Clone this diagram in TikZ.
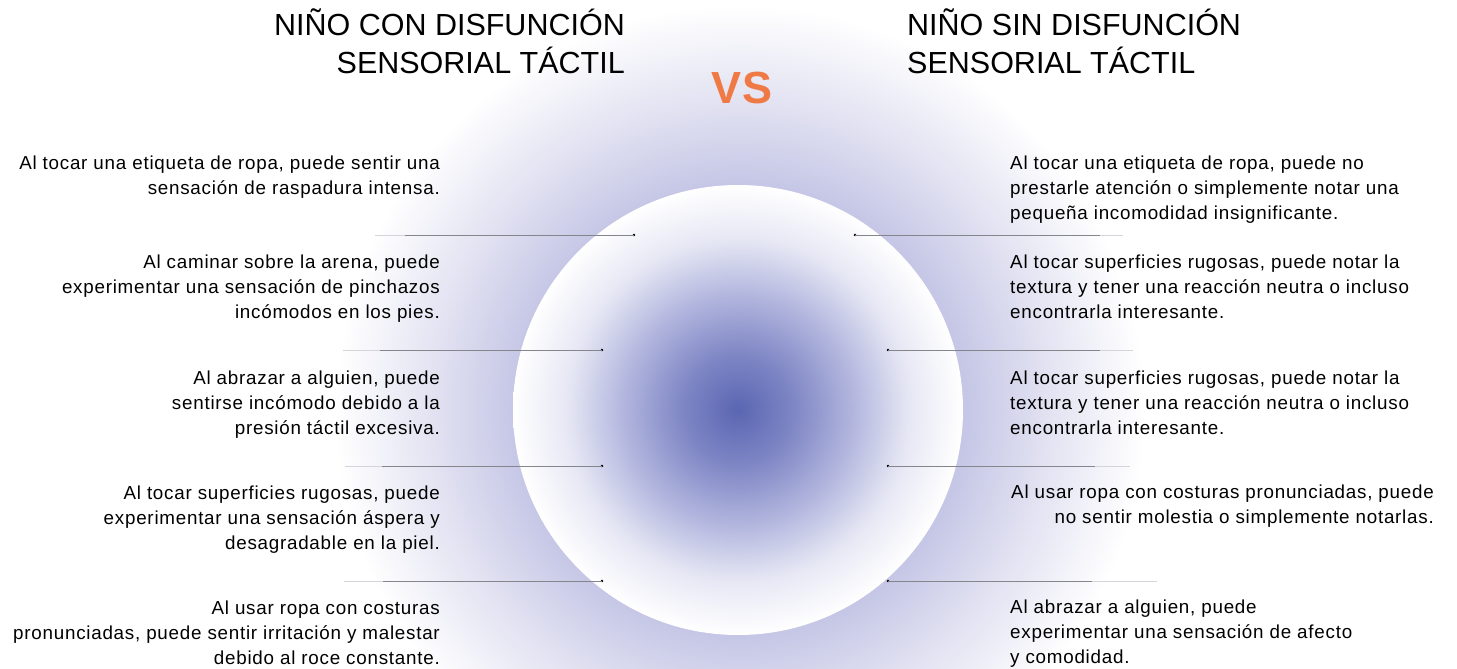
\documentclass[tikz,border=0pt]{standalone}
\usepackage{fontspec}
\setmainfont{Liberation Sans}
\newfontfamily\bodyfont[LetterSpace=4]{Liberation Sans}
\definecolor{haloA}{HTML}{C6C7E6}
\definecolor{haloB}{HTML}{E2E2F2}
\definecolor{orbC}{HTML}{5A66B2}
\definecolor{orbM}{HTML}{7D85C4}
\definecolor{orbL}{HTML}{B0B4DD}
\definecolor{orbW}{HTML}{E6E7F4}
\definecolor{vsorange}{HTML}{F07A45}
\definecolor{rulec}{HTML}{85858C}
\definecolor{rulelight}{HTML}{D4D4DA}
\pgfdeclareradialshading{halo}{\pgfpointorigin}{color(0bp)=(haloA); color(14bp)=(haloA); color(19bp)=(haloB); color(25bp)=(white); color(50bp)=(white)}
\pgfdeclareradialshading{orb}{\pgfpointorigin}{color(0bp)=(orbC); color(6bp)=(orbM); color(12.5bp)=(orbL); color(19bp)=(orbW); color(25bp)=(white); color(50bp)=(white)}
\tikzset{
  body/.style={font=\bodyfont\fontsize{18.8}{25}\selectfont, inner sep=0pt, text=black},
  lbody/.style={body, anchor=base east, align=right},
  rbody/.style={body, anchor=base west, align=left},
  title/.style={font=\fontsize{30.5}{38}\selectfont, inner sep=0pt, text=black},
  rule/.style={draw=rulec, line width=0.9pt},
  rulefade/.style={draw=rulelight, line width=0.9pt},
  dotm/.style={circle, fill=black, inner sep=0pt, minimum size=2.6pt},
}
\begin{document}
\begin{tikzpicture}[x=1pt, y=-1pt]
\useasboundingbox (0,0) rectangle (1457,669);
\begin{scope}
  \clip (0,0) rectangle (1457,669);
  \shade[shading=halo] (740,410) circle[radius=405pt];
\end{scope}
\node[circle, minimum size=450pt, inner sep=0pt, shading=orb] (orb) at (738,410) {};

% titles (anchor = baseline of last line)
\node[title, anchor=base east, align=right] (tl) at (625,74) {NIÑO CON DISFUNCIÓN\\SENSORIAL TÁCTIL};
\node[title, anchor=base west, align=left] (tr) at (907,74) {NIÑO SIN DISFUNCIÓN\\SENSORIAL TÁCTIL};
\node[font=\bfseries\fontsize{45}{45}\selectfont, text=vsorange, inner sep=0pt, anchor=base] (vs) at (742,103) {VS};

% left texts
\node[lbody] (l1) at (440,194) {Al tocar una etiqueta de ropa, puede sentir una\\sensación de raspadura intensa.};
\node[lbody] (l2) at (440,318) {Al caminar sobre la arena, puede\\experimentar una sensación de pinchazos\\incómodos en los pies.};
\node[lbody] (l3) at (440,434) {Al abrazar a alguien, puede\\sentirse incómodo debido a la\\presión táctil excesiva.};
\node[lbody] (l4) at (440,549) {Al tocar superficies rugosas, puede\\experimentar una sensación áspera y\\desagradable en la piel.};
\node[lbody] (l5) at (440,664) {Al usar ropa con costuras\\pronunciadas, puede sentir irritación y malestar\\debido al roce constante.};

% right texts
\node[rbody] (r1) at (1010,219) {Al tocar una etiqueta de ropa, puede no\\prestarle atención o simplemente notar una\\pequeña incomodidad insignificante.};
\node[rbody] (r2) at (1010,318) {Al tocar superficies rugosas, puede notar la\\textura y tener una reacción neutra o incluso\\encontrarla interesante.};
\node[rbody] (r3) at (1010,434) {Al tocar superficies rugosas, puede notar la\\textura y tener una reacción neutra o incluso\\encontrarla interesante.};
\node[lbody] (r4) at (1434,523) {Al usar ropa con costuras pronunciadas, puede\\no sentir molestia o simplemente notarlas.};
\node[rbody] (r5) at (1010,663) {Al abrazar a alguien, puede\\experimentar una sensación de afecto\\y comodidad.};

% left rules
\coordinate (la1) at (375,235); \coordinate (lb1) at (405,235); \node[dotm] (ld1) at (634,235) {};
\coordinate (la2) at (343,350); \coordinate (lb2) at (380,350); \node[dotm] (ld2) at (602,350) {};
\coordinate (la3) at (345,466); \coordinate (lb3) at (382,466); \node[dotm] (ld3) at (602,466) {};
\coordinate (la4) at (344,581); \coordinate (lb4) at (383,581); \node[dotm] (ld4) at (602,581) {};
\foreach \i in {1,2,3,4} {
  \draw[rulefade] (la\i) -- (lb\i);
  \draw[rule] (lb\i) -- (ld\i.center);
}
% right rules
\node[dotm] (rd1) at (855,235) {}; \coordinate (rb1) at (1100,235); \coordinate (ra1) at (1123,235);
\node[dotm] (rd2) at (888,350) {}; \coordinate (rb2) at (1100,350); \coordinate (ra2) at (1133,350);
\node[dotm] (rd3) at (888,466) {}; \coordinate (rb3) at (1095,466); \coordinate (ra3) at (1130,466);
\node[dotm] (rd4) at (888,581) {}; \coordinate (rb4) at (1092,581); \coordinate (ra4) at (1157,581);
\foreach \i in {1,2,3,4} {
  \draw[rule] (rd\i.center) -- (rb\i);
  \draw[rulefade] (rb\i) -- (ra\i);
}
\end{tikzpicture}
\end{document}
